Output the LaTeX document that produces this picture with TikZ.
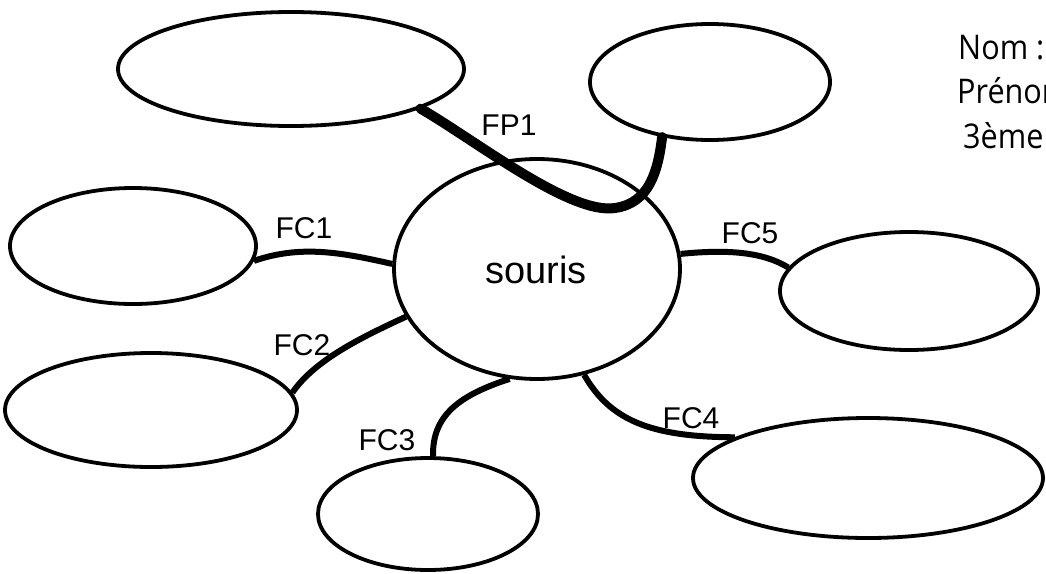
\documentclass[tikz,border=0pt]{standalone}
\usepackage{fontspec}
\setmainfont{Liberation Sans}
\newfontfamily\handfont{Open Sans}
\usetikzlibrary{shapes.geometric}
\begin{document}
\begin{tikzpicture}[x=1pt,y=-1pt,
  bubble/.style={draw,ellipse,line width=3.8pt,inner sep=0pt},
  link/.style={line width=6pt},
  mainlink/.style={line width=10pt,line cap=round,line join=round},
  lab/.style={font=\fontsize{30}{36}\selectfont,anchor=base,inner sep=0pt},
  hand/.style={font=\handfont\fontsize{34}{40}\selectfont,anchor=base west,inner sep=0pt}]
\clip (0,0) rectangle (1046,573);
\fill[white] (0,0) rectangle (1046,573);
% nodes
\node[bubble,minimum width=286pt,minimum height=220pt] (s) at (537,269) {};
\node[font=\fontsize{38}{44}\selectfont] (st) at (536,270) {souris};
\node[bubble,minimum width=346pt,minimum height=114pt] (e1) at (291,69) {};
\node[bubble,minimum width=240pt,minimum height=116pt] (e2) at (710,82) {};
\node[bubble,minimum width=246pt,minimum height=116pt] (c1) at (133,246) {};
\node[bubble,minimum width=292pt,minimum height=114pt] (c2) at (151,410) {};
\node[bubble,minimum width=220pt,minimum height=112pt] (c3) at (428,514) {};
\node[bubble,minimum width=350pt,minimum height=120pt] (c4) at (868,478) {};
\node[bubble,minimum width=258pt,minimum height=118pt] (c5) at (909,291) {};
% connectors
\draw[mainlink] (e1.-17.6) .. controls (475,140) and (570,215) .. (615,208)
   .. controls (650,203) and (658,170) .. (e2.-131);
\draw[link] (c1.-7.6) .. controls (300,245) and (340,252) .. (s.178);
\draw[link] (c2.7.4) .. controls (315,360) and (360,338) .. (s.200);
\draw[link] (c3.85) .. controls (432,415) and (460,395) .. (s.256);
\draw[link] (s.-66) .. controls (610,420) and (650,437) .. (c4.163);
\draw[link] (s.6) .. controls (720,250) and (760,250) .. (c5.169);
% labels
\node[lab] (lfp1) at (509,135) {FP1};
\node[lab] (lfc1) at (304,238) {FC1};
\node[lab] (lfc2) at (302,355) {FC2};
\node[lab] (lfc3) at (387,450) {FC3};
\node[lab] (lfc4) at (691,428) {FC4};
\node[lab] (lfc5) at (750,243) {FC5};
% header text
\node[hand] (nom) at (958,59) {\scalebox{0.9}[1]{Nom :}};
\node[hand] (prenom) at (957,103) {\scalebox{0.9}[1]{Prénom}};
\node[hand] (classe) at (963,148) {\scalebox{0.9}[1]{3ème}};
\end{tikzpicture}
\end{document}
